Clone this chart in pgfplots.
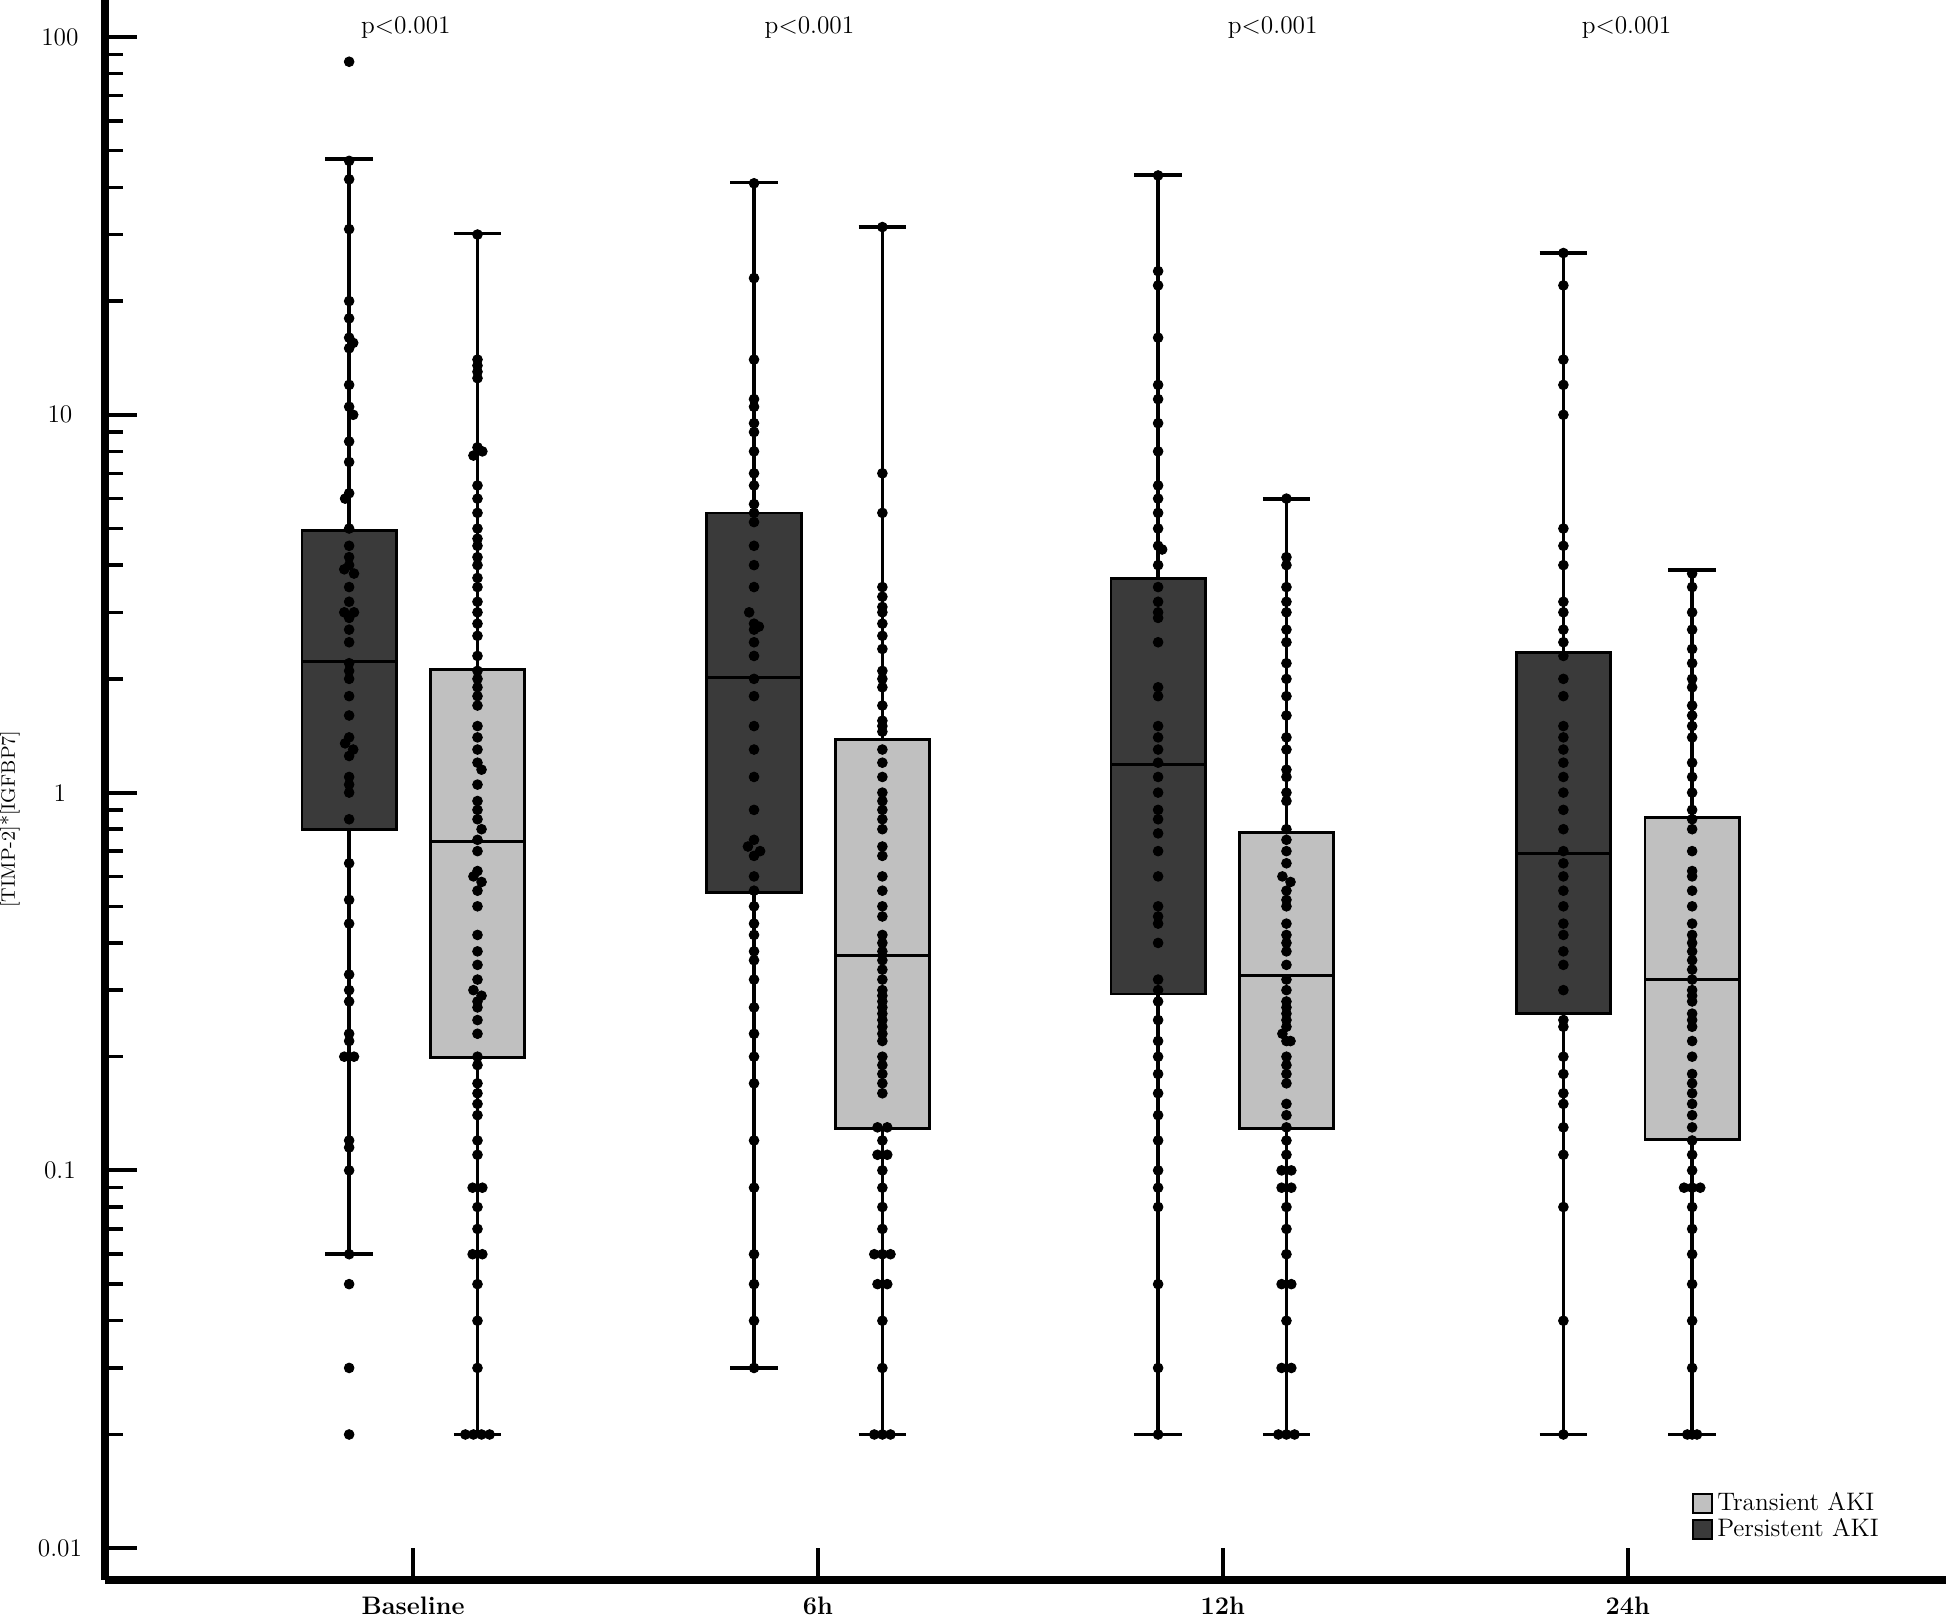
\documentclass[border=0pt]{standalone}
\usepackage{pgfplots}
\usepackage{pgfplotstable}
\pgfplotsset{compat=1.18}
\usepgfplotslibrary{statistics}
\definecolor{darkbox}{RGB}{58,58,58}
\definecolor{lightbox}{RGB}{192,192,192}

% dx v tables (dx = small horizontal offset for overlapping dots)
\pgfplotstableread[row sep=\\]{dx v\\
0 86\\ 0 47\\ 0 42\\ 0 31\\ 0 20\\ 0 18\\ 0 16\\ 0.01 15.5\\ 0 15\\ 0 12\\ 0 10.5\\ 0.01 10\\ 0 8.5\\ 0 7.5\\ 0 6.2\\ -0.01 6\\ 0 5\\ 0 4.5\\ 0 4.2\\ 0 4\\ -0.012 3.9\\ 0.012 3.8\\ 0 3.5\\ 0 3.2\\ -0.012 3\\ 0.012 3\\ 0 2.9\\ 0 2.7\\ 0 2.5\\ 0 2.2\\ 0 2.1\\ 0 2.0\\ 0 1.8\\ 0 1.6\\ 0 1.4\\ -0.01 1.35\\ 0.01 1.3\\ 0 1.25\\ 0 1.1\\ 0 1.05\\ 0 1.0\\ 0 0.85\\ 0 0.65\\ 0 0.52\\ 0 0.45\\ 0 0.33\\ 0 0.30\\ 0 0.28\\ 0 0.23\\ 0 0.22\\ -0.012 0.20\\ 0.012 0.2\\ 0 0.12\\ 0 0.115\\ 0 0.10\\ 0 0.06\\ 0 0.05\\ 0 0.03\\ 0 0.02\\
}\BP
\pgfplotstableread[row sep=\\]{dx v\\
0 30\\ 0 14\\ 0 13.5\\ 0 13\\ 0 12.5\\ 0 8.2\\ 0.012 8\\ -0.01 7.8\\ 0 6.5\\ 0 6\\ 0 5.5\\ 0 5\\ 0 4.7\\ 0 4.5\\ 0 4.2\\ 0 4\\ 0 3.7\\ 0 3.5\\ 0 3.2\\ 0 3\\ 0 2.8\\ 0 2.6\\ 0 2.3\\ 0 2.1\\ 0 2.0\\ 0 1.9\\ 0 1.8\\ 0 1.7\\ 0 1.5\\ 0 1.4\\ 0 1.3\\ 0 1.2\\ 0.01 1.15\\ 0 1.05\\ 0 0.95\\ 0 0.9\\ 0 0.85\\ 0.01 0.8\\ 0 0.75\\ 0 0.7\\ 0 0.62\\ -0.01 0.6\\ 0.01 0.58\\ 0 0.55\\ 0 0.5\\ 0 0.42\\ 0 0.38\\ 0 0.35\\ 0 0.32\\ -0.01 0.3\\ 0.01 0.29\\ 0 0.28\\ 0 0.27\\ 0 0.25\\ 0 0.23\\ 0 0.2\\ 0 0.19\\ 0 0.17\\ 0 0.16\\ 0 0.15\\ 0 0.14\\ 0 0.12\\ 0 0.11\\ -0.012 0.09\\ 0.012 0.09\\ 0 0.08\\ 0 0.07\\ -0.012 0.06\\ 0.012 0.06\\ 0 0.05\\ 0 0.04\\ 0 0.03\\ -0.03 0.02\\ -0.01 0.02\\ 0.01 0.02\\ 0.03 0.02\\
}\BT
\pgfplotstableread[row sep=\\]{dx v\\
0 41\\ 0 23\\ 0 14\\ 0 11\\ 0 10.5\\ 0 9.5\\ 0 9\\ 0 8\\ 0 7\\ 0 6.5\\ 0 5.8\\ 0 5.5\\ 0 5.2\\ 0 4.5\\ 0 4\\ 0 3.5\\ -0.012 3\\ 0 2.8\\ 0.012 2.75\\ 0 2.7\\ 0 2.5\\ 0 2.3\\ 0 2.0\\ 0 1.8\\ 0 1.5\\ 0 1.3\\ 0 1.1\\ 0 0.9\\ 0 0.75\\ -0.015 0.72\\ 0.015 0.7\\ 0 0.68\\ 0 0.6\\ 0 0.55\\ 0 0.5\\ 0 0.45\\ 0 0.42\\ 0 0.38\\ 0 0.36\\ 0 0.32\\ 0 0.27\\ 0 0.23\\ 0 0.2\\ 0 0.17\\ 0 0.12\\ 0 0.09\\ 0 0.06\\ 0 0.05\\ 0 0.04\\ 0 0.03\\
}\SP
\pgfplotstableread[row sep=\\]{dx v\\
0 31.4\\ 0 7\\ 0 5.5\\ 0 3.5\\ 0 3.3\\ 0 3.1\\ 0 3\\ 0 2.8\\ 0 2.6\\ 0 2.4\\ 0 2.1\\ 0 2.0\\ 0 1.9\\ 0 1.7\\ 0 1.55\\ 0 1.5\\ 0 1.45\\ 0 1.3\\ 0 1.2\\ 0 1.1\\ 0 1.0\\ 0 0.95\\ 0 0.9\\ 0 0.85\\ 0 0.8\\ 0 0.72\\ 0 0.68\\ 0 0.6\\ 0 0.55\\ 0 0.5\\ 0 0.47\\ 0 0.42\\ 0 0.4\\ 0 0.38\\ 0 0.36\\ 0 0.34\\ 0 0.32\\ 0 0.3\\ 0 0.29\\ 0 0.28\\ 0 0.27\\ 0 0.26\\ 0 0.25\\ 0 0.24\\ 0 0.23\\ 0 0.22\\ 0 0.2\\ 0 0.19\\ 0 0.18\\ 0 0.17\\ 0 0.16\\ -0.012 0.13\\ 0.012 0.13\\ 0 0.12\\ -0.012 0.11\\ 0.012 0.11\\ 0 0.1\\ 0 0.09\\ 0 0.08\\ 0 0.07\\ -0.02 0.06\\ 0 0.06\\ 0.02 0.06\\ -0.012 0.05\\ 0.012 0.05\\ 0 0.04\\ 0 0.03\\ -0.02 0.02\\ 0 0.02\\ 0.02 0.02\\
}\ST
\pgfplotstableread[row sep=\\]{dx v\\
0 43\\ 0 24\\ 0 22\\ 0 16\\ 0 12\\ 0 11\\ 0 9.5\\ 0 8\\ 0 6.5\\ 0 6\\ 0 5.5\\ 0 5\\ 0 4.5\\ 0.01 4.4\\ 0 4\\ 0 3.5\\ 0 3.2\\ 0 3.0\\ 0 2.9\\ 0 2.5\\ 0 1.9\\ 0 1.8\\ 0 1.5\\ 0 1.4\\ 0 1.3\\ 0 1.2\\ 0 1.1\\ 0 1.0\\ 0 0.9\\ 0 0.85\\ 0 0.78\\ 0 0.7\\ 0 0.6\\ 0 0.5\\ 0 0.47\\ 0 0.45\\ 0 0.4\\ 0 0.32\\ 0 0.3\\ 0 0.28\\ 0 0.25\\ 0 0.22\\ 0 0.2\\ 0 0.18\\ 0 0.16\\ 0 0.14\\ 0 0.12\\ 0 0.1\\ 0 0.09\\ 0 0.08\\ 0 0.05\\ 0 0.03\\ 0 0.02\\
}\TP
\pgfplotstableread[row sep=\\]{dx v\\
0 6\\ 0 4.2\\ 0 4\\ 0 3.5\\ 0 3.2\\ 0 3.0\\ 0 2.7\\ 0 2.5\\ 0 2.2\\ 0 2.0\\ 0 1.8\\ 0 1.6\\ 0 1.4\\ 0 1.3\\ 0 1.15\\ 0 1.1\\ 0 1.0\\ 0 0.95\\ 0 0.8\\ 0 0.75\\ 0 0.7\\ 0 0.65\\ -0.01 0.6\\ 0.01 0.58\\ 0 0.55\\ 0 0.52\\ 0 0.5\\ 0 0.45\\ 0 0.42\\ 0 0.4\\ 0 0.38\\ 0 0.35\\ 0 0.32\\ 0 0.3\\ 0 0.28\\ 0 0.27\\ 0 0.26\\ 0 0.25\\ 0 0.24\\ -0.01 0.23\\ 0.01 0.22\\ 0 0.22\\ 0 0.2\\ 0 0.19\\ 0 0.18\\ 0 0.17\\ 0 0.15\\ 0 0.14\\ 0 0.13\\ 0 0.12\\ 0 0.11\\ -0.012 0.1\\ 0.012 0.1\\ -0.012 0.09\\ 0.012 0.09\\ 0 0.08\\ 0 0.07\\ 0 0.06\\ -0.012 0.05\\ 0.012 0.05\\ 0 0.04\\ -0.012 0.03\\ 0.012 0.03\\ -0.02 0.02\\ 0 0.02\\ 0.02 0.02\\
}\TT
\pgfplotstableread[row sep=\\]{dx v\\
0 26.8\\ 0 22\\ 0 14\\ 0 12\\ 0 10\\ 0 5\\ 0 4.5\\ 0 4\\ 0 3.2\\ 0 3.0\\ 0 2.7\\ 0 2.5\\ 0 2.3\\ 0 2.0\\ 0 1.8\\ 0 1.5\\ 0 1.4\\ 0 1.3\\ 0 1.2\\ 0 1.1\\ 0 1.0\\ 0 0.9\\ 0 0.8\\ 0 0.7\\ 0 0.65\\ 0 0.6\\ 0 0.55\\ 0 0.5\\ 0 0.45\\ 0 0.42\\ 0 0.38\\ 0 0.35\\ 0 0.3\\ 0 0.25\\ 0 0.24\\ 0 0.2\\ 0 0.18\\ 0 0.16\\ 0 0.15\\ 0 0.13\\ 0 0.11\\ 0 0.08\\ 0 0.04\\ 0 0.02\\
}\FP
\pgfplotstableread[row sep=\\]{dx v\\
0 3.8\\ 0 3.5\\ 0 3.0\\ 0 2.7\\ 0 2.4\\ 0 2.2\\ 0 2.0\\ 0 1.9\\ 0 1.7\\ 0 1.6\\ 0 1.5\\ 0 1.4\\ 0 1.2\\ 0 1.1\\ 0 1.0\\ 0 0.9\\ 0 0.85\\ 0 0.8\\ 0 0.7\\ 0 0.62\\ 0 0.6\\ 0 0.55\\ 0 0.5\\ 0 0.45\\ 0 0.42\\ 0 0.4\\ 0 0.38\\ 0 0.36\\ 0 0.34\\ 0 0.32\\ 0 0.3\\ 0 0.29\\ 0 0.28\\ 0 0.26\\ 0 0.25\\ 0 0.24\\ 0 0.22\\ 0 0.2\\ 0 0.18\\ 0 0.17\\ 0 0.16\\ 0 0.15\\ 0 0.14\\ 0 0.13\\ 0 0.12\\ 0 0.11\\ 0 0.1\\ -0.02 0.09\\ 0 0.09\\ 0.02 0.09\\ 0 0.08\\ 0 0.07\\ 0 0.06\\ 0 0.05\\ 0 0.04\\ 0 0.03\\ -0.012 0.02\\ 0.012 0.02\\ 0 0.02\\
}\FT

\begin{document}
\begin{tikzpicture}
\begin{axis}[name=ax,
  scale only axis, width=800.4pt, height=687pt,
  ymode=log, ymin=0.00823, ymax=125.3,
  xmin=0.239, xmax=4.786,
  axis x line=bottom, axis y line=left,
  axis line style={-, line width=3.4pt},
  xtick={1,2,3,4}, xticklabels={Baseline,6h,12h,24h},
  xticklabel style={font=\fontsize{11}{13}\selectfont\bfseries, anchor=center, yshift=-11pt},
  ytick={0.01,0.1,1,10,100}, yticklabels={0.01,0.1,1,10,100},
  minor ytick={0.02,0.03,0.04,0.05,0.06,0.07,0.08,0.09,0.2,0.3,0.4,0.5,0.6,0.7,0.8,0.9,2,3,4,5,6,7,8,9,20,30,40,50,60,70,80,90},
  yticklabel style={font=\fontsize{11}{13}\selectfont, anchor=center, xshift=-19.6pt},
  tick align=inside,
  major tick length=14pt, minor tick length=8pt,
  every major tick/.append style={line width=1.8pt, black},
  every minor tick/.append style={line width=1.5pt, black},
  ylabel={\relax[TIMP-2]*[IGFBP7]},
  ylabel style={at={(axis description cs:-0.0516,0.4816)}, anchor=center, font=\fontsize{8.5}{10}\selectfont},
  clip=false,
  boxplot/draw direction=y,
  boxplot/box extend=0.233,
  boxplot/whisker extend=0.117,
  boxplot/every whisker/.style={line width=1.6pt},
  boxplot/every median/.style={line width=1.3pt},
  legend image code/.code={\draw[#1, line width=0.8pt] (0pt,-4pt) rectangle (8pt,4pt);},
  legend style={draw=none, fill=none, font=\fontsize{11}{13}\selectfont,
    at={(axis description cs:0.862,0.022)}, anchor=south west,
    row sep=-2pt, inner sep=0pt},
  legend cell align=left,
]
% boxes: persistent (dark) left, transient (light) right
\addplot[forget plot, boxplot prepared={draw position=0.842, lower whisker=0.060, lower quartile=0.80, median=2.22, upper quartile=4.94, upper whisker=47.6}, fill=darkbox, draw=black, line width=1.2pt] coordinates {};
\addplot[forget plot, boxplot prepared={draw position=1.159, lower whisker=0.02, lower quartile=0.199, median=0.744, upper quartile=2.12, upper whisker=30.2}, fill=lightbox, draw=black, line width=1.2pt] coordinates {};
\addplot[forget plot, boxplot prepared={draw position=1.842, lower whisker=0.030, lower quartile=0.545, median=2.02, upper quartile=5.50, upper whisker=41.2}, fill=darkbox, draw=black, line width=1.2pt] coordinates {};
\addplot[forget plot, boxplot prepared={draw position=2.159, lower whisker=0.02, lower quartile=0.129, median=0.371, upper quartile=1.38, upper whisker=31.4}, fill=lightbox, draw=black, line width=1.2pt] coordinates {};
\addplot[forget plot, boxplot prepared={draw position=2.840, lower whisker=0.02, lower quartile=0.293, median=1.19, upper quartile=3.68, upper whisker=43.1}, fill=darkbox, draw=black, line width=1.2pt] coordinates {};
\addplot[forget plot, boxplot prepared={draw position=3.157, lower whisker=0.02, lower quartile=0.129, median=0.328, upper quartile=0.785, upper whisker=5.98}, fill=lightbox, draw=black, line width=1.2pt] coordinates {};
\addplot[forget plot, boxplot prepared={draw position=3.841, lower whisker=0.02, lower quartile=0.260, median=0.690, upper quartile=2.35, upper whisker=26.8}, fill=darkbox, draw=black, line width=1.2pt] coordinates {};
\addplot[forget plot, boxplot prepared={draw position=4.159, lower whisker=0.02, lower quartile=0.121, median=0.321, upper quartile=0.859, upper whisker=3.88}, fill=lightbox, draw=black, line width=1.2pt] coordinates {};
% dots
\pgfplotsset{dots/.style={forget plot, only marks, mark=*, mark size=2.1pt, black, mark options={fill=black}}}
\addplot[dots] table[x expr=0.842+\thisrow{dx}, y=v] {\BP};
\addplot[dots] table[x expr=1.159+\thisrow{dx}, y=v] {\BT};
\addplot[dots] table[x expr=1.842+\thisrow{dx}, y=v] {\SP};
\addplot[dots] table[x expr=2.159+\thisrow{dx}, y=v] {\ST};
\addplot[dots] table[x expr=2.840+\thisrow{dx}, y=v] {\TP};
\addplot[dots] table[x expr=3.157+\thisrow{dx}, y=v] {\TT};
\addplot[dots] table[x expr=3.841+\thisrow{dx}, y=v] {\FP};
\addplot[dots] table[x expr=4.159+\thisrow{dx}, y=v] {\FT};
% p-values
\node[font=\fontsize{11}{13}\selectfont] at (axis cs:0.982,105.7) {p\textless 0.001};
\node[font=\fontsize{11}{13}\selectfont] at (axis cs:1.979,105.7) {p\textless 0.001};
\node[font=\fontsize{11}{13}\selectfont] at (axis cs:3.123,105.7) {p\textless 0.001};
\node[font=\fontsize{11}{13}\selectfont] at (axis cs:3.997,105.7) {p\textless 0.001};
% legend
\addlegendimage{fill=lightbox, draw=black}
\addlegendentry{Transient AKI}
\addlegendimage{fill=darkbox, draw=black}
\addlegendentry{Persistent AKI}
\end{axis}
\pgfresetboundingbox
\path (ax.south west) ++(-45.65pt,-16.5pt) rectangle (ax.north east);
\end{tikzpicture}
\end{document}
